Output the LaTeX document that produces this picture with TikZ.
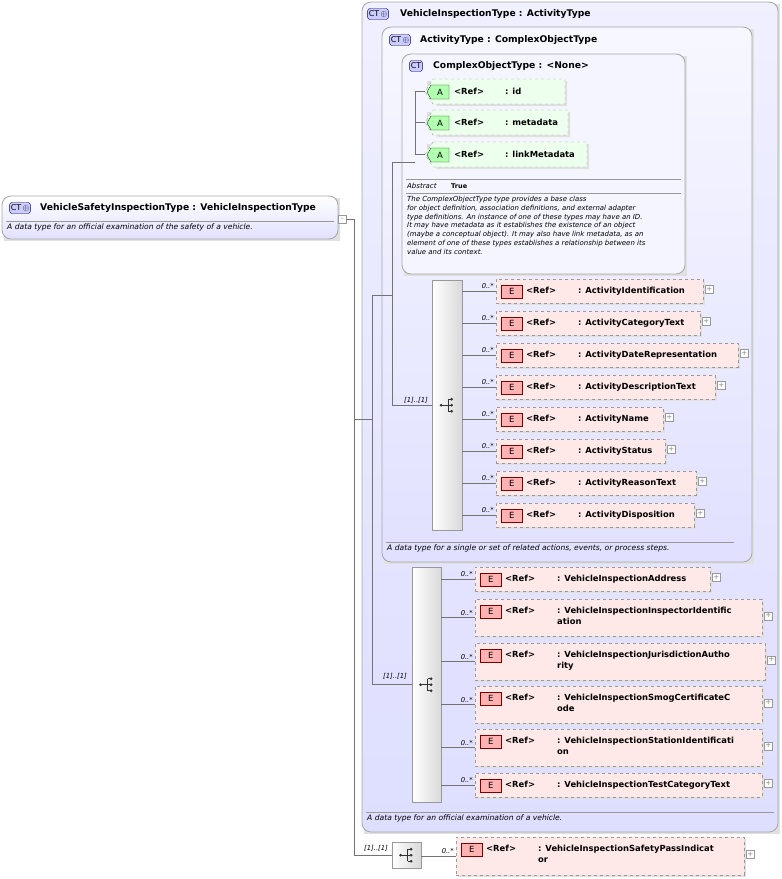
\documentclass[tikz,border=0pt]{standalone}
\usepackage{fontspec}
\setmainfont{DejaVu Sans}
\begin{document}
\begin{tikzpicture}[x=1pt,y=-1pt,
  ctbox/.style={draw=black!35,rounded corners=9pt,line width=0.8pt},
  cticon/.style={draw=blue!40!black,fill=blue!20,rounded corners=2.5pt,inner sep=1.2pt,font=\fontsize{8}{9}\selectfont,minimum height=11pt},
  ttl/.style={font=\bfseries\fontsize{9.2}{10}\selectfont,inner sep=0pt,anchor=west},
  desc/.style={font=\itshape\fontsize{7.6}{8}\selectfont,inner sep=0pt,anchor=north west,align=left},
  elbox/.style={draw=black!40,dashed,fill=red!9,inner sep=0pt},
  eicon/.style={draw=red!50!black,fill=red!30,inner sep=0pt,minimum width=21pt,minimum height=13pt,font=\fontsize{8.5}{9}\selectfont},
  reftxt/.style={font=\bfseries\fontsize{8.4}{11}\selectfont,inner sep=0pt,align=left},
  mult/.style={font=\itshape\fontsize{6.8}{8}\selectfont,inner sep=0pt},
  plusbox/.style={draw=black!40,fill=white,minimum size=8pt,inner sep=0pt,font=\fontsize{7}{7}\selectfont,text=black!50},
  seqbox/.style={draw=black!40,left color=white,right color=black!15,inner sep=0pt},
  conn/.style={draw=black!55,line width=0.5pt}
]
\useasboundingbox (0,0) rectangle (782,879);
\newcommand\SeqIcon[1]{%
  \fill[black!80] ([xshift=-6pt]#1) circle (1.5pt);
  \draw[black!80,line width=0.8pt] ([xshift=-6pt]#1) -- ([xshift=1pt]#1)
    ([xshift=1pt,yshift=-6pt]#1) -- ([xshift=1pt,yshift=6pt]#1);
  \foreach \d in {-6,0,6}{\fill[black!80] ([xshift=4.5pt,yshift=\d pt]#1) circle (1.5pt);
    \draw[black!80,line width=0.8pt] ([xshift=1pt,yshift=\d pt]#1) -- ([xshift=4.5pt,yshift=\d pt]#1);}}
\newcommand\El[6]{%
  \fill[black!12] (#2+2,#3+2) rectangle (#2+#4+2,#3+#5+2);
  \node[elbox,minimum width=#4pt,minimum height=#5pt,anchor=north west] (#1) at (#2,#3) {};
  \node[eicon,anchor=north west] (#1i) at (#2+5,#3+6) {E};
  \node[reftxt,anchor=north west] (#1r) at (#2+30,#3+7.5) {\textless Ref\textgreater};
  \node[reftxt,anchor=north west] (#1t) at (#2+82,#3+7.5) {: #6};
  \node[plusbox] (#1p) at ([xshift=6pt,yshift=2pt]#1.east) {+};}
\newcommand\At[5]{%
  \fill[black!12] (#2+2,#3+2) -- (#2+#4+2,#3+2) -- (#2+#4+2,#3+27) -- (#2+12,#3+27) -- (#2+2,#3+14) -- cycle;
  \draw[black!40,dashed,fill=green!7] (#2+8,#3) -- (#2+#4,#3) -- (#2+#4,#3+25) -- (#2+8,#3+25) -- (#2,#3+12.5) -- cycle;
  \coordinate (#1) at (#2,#3+12.5);
  \draw[green!30!black,fill=green!30] (#2+6,#3+6) -- (#2+24,#3+6) -- (#2+24,#3+20) -- (#2+6,#3+20) -- (#2+2,#3+13) -- cycle;
  \node[font=\fontsize{8.5}{9}\selectfont,inner sep=0pt] (#1i) at (#2+15,#3+13) {A};
  \node[reftxt,anchor=west] (#1r) at (#2+29,#3+12) {\textless Ref\textgreater};
  \node[reftxt,anchor=west] (#1t) at (#2+80,#3+12) {: #5};}

\fill[black!12] (364,4) rectangle (780,834);
\draw[ctbox,top color=blue!6,bottom color=blue!13] (362,2) rectangle (778,832);
\node[cticon] (vit) at (378,14) {CT\,$\oplus$};
\node[ttl] (vitt) at (400,14) {VehicleInspectionType : ActivityType};
\draw[black!40] (366,812) -- (774,812);
\node[desc] (vitd) at (367,815) {A data type for an official examination of a vehicle.};

\fill[black!12] (384,29) rectangle (754,564);
\draw[ctbox,top color=blue!3,bottom color=blue!12] (382,27) rectangle (752,562);
\node[cticon] (at) at (400,40) {CT\,$\oplus$};
\node[ttl] (att) at (420,40) {ActivityType : ComplexObjectType};
\draw[black!40] (386,542) -- (734,542);
\node[desc] (atd) at (387,545) {A data type for a single or set of related actions, events, or process steps.};

\fill[black!12] (404,56) rectangle (687,276);
\draw[ctbox,fill=blue!4] (402,54) rectangle (685,274);
\node[cticon] (co) at (416,66) {CT};
\node[ttl] (cot) at (433,66) {ComplexObjectType : <None>};
\At{aid}{425}{79}{140}{id}
\At{amd}{425}{110}{143}{metadata}
\At{alm}{425}{142}{162}{linkMetadata}
\draw[black!40] (406,179) -- (681,179);
\node[desc,anchor=west,font=\itshape\fontsize{7}{8}\selectfont] (abs) at (407,186) {Abstract};
\node[font=\bfseries\fontsize{6.5}{7}\selectfont,inner sep=0pt,anchor=west] (abv) at (451,186) {True};
\draw[black!40] (406,193) -- (681,193);
\node[desc,font=\itshape\fontsize{6.95}{8.8}\selectfont] (cod) at (407,196) {The ComplexObjectType type provides a base class\\for object definition, association definitions, and external adapter\\type definitions. An instance of one of these types may have an ID.\\It may have metadata as it establishes the existence of an object\\(maybe a conceptual object). It may also have link metadata, as an\\element of one of these types establishes a relationship between its\\value and its context.};
\draw[conn] (aid) -- ++(-10,0) coordinate (ca1) -- (ca1 |- alm) -- (alm);
\draw[conn] (amd) -- (ca1 |- amd);
\coordinate (ca2) at (392,162);
\draw[conn] (ca1 |- ca2) -- (ca2);

\node[seqbox,minimum width=30pt,minimum height=250pt,anchor=north west] (s1) at (432,280) {};
\SeqIcon{s1.center}
\El{e1}{496}{279}{207}{24}{ActivityIdentification}
\El{e2}{496}{311}{204}{24}{ActivityCategoryText}
\El{e3}{496}{343}{242}{24}{ActivityDateRepresentation}
\El{e4}{496}{375}{219}{24}{ActivityDescriptionText}
\El{e5}{496}{407}{167}{24}{ActivityName}
\El{e6}{496}{439}{169}{24}{ActivityStatus}
\El{e7}{496}{471}{200}{24}{ActivityReasonText}
\El{e8}{496}{503}{198}{24}{ActivityDisposition}
\foreach \e in {e1,e2,e3,e4,e5,e6,e7,e8}{
  \draw[conn] (s1.east |- \e.west) -- (\e.west);
  \node[mult,anchor=south east] at ([xshift=-2pt,yshift=2pt]\e.west) {0..*};}
\draw[conn] (ca2) -- (ca2 |- s1.center) -- (s1.west |- s1.center);
\node[mult,anchor=south] (m1) at (416,404) {[1]..[1]};

\node[seqbox,minimum width=29pt,minimum height=235pt,anchor=north west] (s2) at (412,567) {};
\SeqIcon{s2.center}
\El{f1}{475}{567}{235}{24}{VehicleInspectionAddress}
\El{f2}{475}{599}{287}{37}{VehicleInspectionInspectorIdentific\\ation}
\El{f3}{475}{643}{290}{37}{VehicleInspectionJurisdictionAutho\\rity}
\El{f4}{475}{686}{287}{37}{VehicleInspectionSmogCertificateC\\ode}
\El{f5}{475}{729}{287}{37}{VehicleInspectionStationIdentificati\\on}
\El{f6}{475}{773}{287}{24}{VehicleInspectionTestCategoryText}
\foreach \e in {f1,f2,f3,f4,f5,f6}{
  \draw[conn] (s2.east |- \e.west) -- (\e.west);
  \node[mult,anchor=south east] at ([xshift=-2pt,yshift=2pt]\e.west) {0..*};}

\node[seqbox,minimum width=29pt,minimum height=26pt,anchor=north west] (s3) at (392,842) {};
\SeqIcon{s3.center}
\El{g1}{456}{837}{288}{38}{VehicleInspectionSafetyPassIndicat\\or}
\draw[conn] (s3.east |- g1.west) -- (g1.west);
\node[mult,anchor=south east] at ([xshift=-2pt,yshift=2pt]g1.west) {0..*};

\fill[black!12] (4,198) rectangle (340,241);
\draw[ctbox,top color=white,bottom color=blue!12] (2,196) rectangle (338,239);
\node[cticon] (vs) at (20,208) {CT\,$\oplus$};
\node[ttl] (vst) at (40,208) {VehicleSafetyInspectionType : VehicleInspectionType};
\draw[black!40] (6,221) -- (334,221);
\node[desc] (vsd) at (7,224) {A data type for an official examination of the safety of a vehicle.};
\node[plusbox] (vsm) at (342,219) {--};

\coordinate (b1) at (354,219);
\coordinate (b2) at (372,419);
\coordinate (b3) at (372,295);
\draw[conn] (vsm.east) -- (b1) -- (b1 |- s3.center) -- (s3.west |- s3.center);
\draw[conn] (b1 |- b2) -- (b2);
\draw[conn] (ca2 |- b3) -- (b3) -- (b3 |- s2.center) -- (s2.west |- s2.center);
\node[mult,anchor=south] (m2) at (395,680) {[1]..[1]};
\node[mult,anchor=south] (m3) at (376,852) {[1]..[1]};
\end{tikzpicture}
\end{document}
